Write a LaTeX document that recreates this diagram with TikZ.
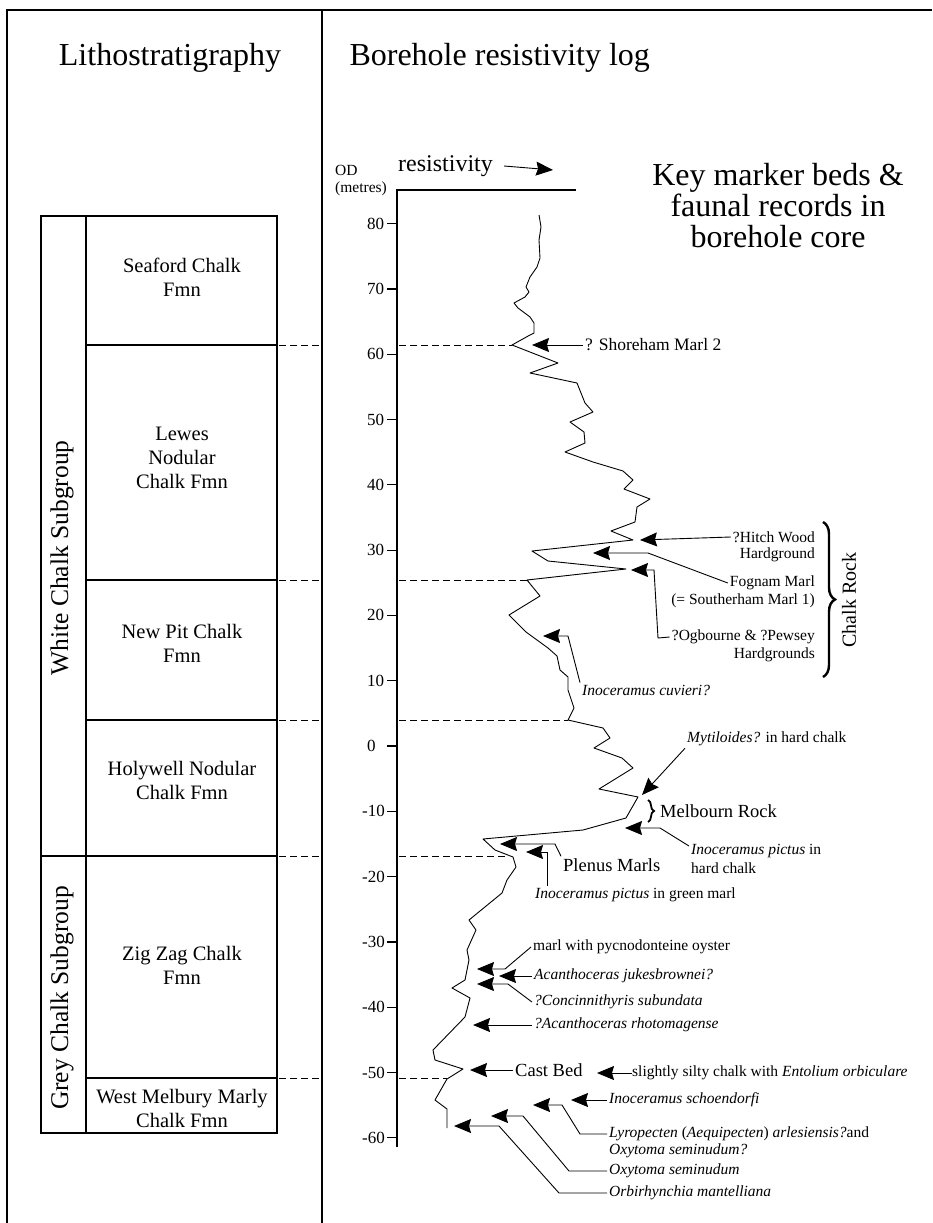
\documentclass[tikz,border=0pt]{standalone}
\usepackage{fontspec}
\setmainfont{Liberation Serif}
\usepackage{tikz}
\usetikzlibrary{arrows.meta,positioning,decorations.pathreplacing}

\begin{document}
\begin{tikzpicture}[
    x=1pt,y=-1pt,
    frame/.style={line width=1.2pt},
    unitbox/.style={draw,line width=1.2pt},
    fmn/.style={align=center,font=\fontsize{20.5}{24}\selectfont},
    group/.style={rotate=90,font=\fontsize{25.5}{28}\selectfont},
    note/.style={inner sep=2pt,font=\fontsize{15.5}{17.5}\selectfont},
    bignote/.style={inner sep=2pt,font=\fontsize{18.5}{21}\selectfont},
    odlbl/.style={inner sep=1pt,font=\fontsize{17}{19}\selectfont},
    arrow/.style={-{Stealth[length=17pt,width=14pt,inset=2pt]},line width=0.9pt},
    marker/.style={dash pattern=on 7pt off 4pt,line width=0.9pt},
    logline/.style={line width=0.9pt,line join=round},
    bracket/.style={decorate,decoration={brace,amplitude=#1},line width=2pt}
]
\useasboundingbox (0,0) rectangle (932,1223);

% frame and headings
\draw[frame] (932,10) -- (7,10) -- (7,1223);
\draw[frame] (322,10) -- (322,1223);
\node[font=\fontsize{32}{34}\selectfont] (hlith) at (170,58) {Lithostratigraphy};
\node[font=\fontsize{32}{34}\selectfont,anchor=west] (hlog) at (346,58) {Borehole resistivity log};
\node[align=center,font=\fontsize{32}{31}\selectfont] (key) at (778,206)
    {Key marker beds \&\\faunal records in\\borehole core};

% lithostratigraphic column
\draw[unitbox] (41,216) rectangle (86,1133);
\draw[unitbox] (86,216) rectangle (277,1133);
\draw[frame] (41,856) -- (86,856);
\foreach \y in {345,580,720,856,1078} {
    \draw[frame] (86,\y) -- (277,\y);
    \draw[marker] (279,\y) -- (320,\y);
}
\node[group] (white) at (62,558) {White Chalk Subgroup};
\node[group] (grey) at (62,998) {Grey Chalk Subgroup};
\node[fmn] (seaford) at (182,277) {Seaford Chalk\\Fmn};
\node[fmn] (lewes) at (182,458) {Lewes\\Nodular\\Chalk Fmn};
\node[fmn] (newpit) at (182,643) {New Pit Chalk\\Fmn};
\node[fmn] (holywell) at (182,780) {Holywell Nodular\\Chalk Fmn};
\node[fmn] (zigzag) at (182,965) {Zig Zag Chalk\\Fmn};
\node[fmn] (westmel) at (182,1108) {West Melbury Marly\\Chalk Fmn};

% log axis
\node[note,anchor=west] (od) at (333,170) {OD};
\node[note,anchor=west] (metres) at (333,189) {(metres)};
\node[anchor=west,inner sep=2pt,font=\fontsize{24}{26}\selectfont] (lres) at (396,166) {resistivity};
\coordinate (resend) at (553,170);
\draw[arrow] ([xshift=9pt]lres.east) -- (resend);
\draw[frame] (576,190) -- (397,190) -- (397,1147);
\foreach \v in {80,70,...,0} {
    \draw[frame] (387,{746-6.53*\v}) -- (397,{746-6.53*\v});
    \node[odlbl,anchor=west] (od\v) at (366,{746-6.53*\v}) {\v};
}
\foreach \v in {-10,-20,...,-60} {
    \draw[frame] (387,{746-6.53*\v}) -- (397,{746-6.53*\v});
    \node[odlbl,anchor=east] (od\v) at (386,{746-6.53*\v}) {\v};
}

% resistivity curve
\draw[logline] (539,215) -- (541,227) -- (539,240) -- (540,258) -- (537,267)
    -- (530,277) -- (526,287) -- (529,292) -- (525,297) -- (514,303) -- (518,308)
    -- (530,317) -- (534,323) -- (534,333) -- (530,335) -- (512,345) -- (558,363)
    -- (530,373) -- (577,383) -- (585,403) -- (593,412) -- (570,422) -- (584,432)
    -- (585,443) -- (565,452) -- (593,462) -- (623,471) -- (633,480) -- (624,489)
    -- (650,499) -- (637,507) -- (635,522) -- (611,531) -- (633,540) -- (532,551)
    -- (548,561) -- (626,569) -- (527,580) -- (540,596) -- (509,615) -- (526,632)
    -- (548,648) -- (557,656) -- (560,670) -- (568,677) -- (568,690) -- (574,708)
    -- (568,720) -- (603,728) -- (610,738) -- (594,748) -- (622,758) -- (633,768)
    -- (599,789) -- (638,797) -- (626,818) -- (583,830) -- (483,839) -- (495,850)
    -- (513,857) -- (516,867) -- (507,880) -- (502,893) -- (469,920) -- (476,930)
    -- (467,950) -- (469,960) -- (465,980) -- (452,988) -- (470,998) -- (465,1017)
    -- (433,1050) -- (435,1060) -- (463,1069) -- (447,1079) -- (435,1100)
    -- (447,1109) -- (447,1128);
\draw[marker] (399,345) -- (512,345);
\draw[marker] (399,580) -- (527,580);
\draw[marker] (399,720) -- (568,720);
\draw[marker] (399,856) -- (508,856);
\draw[marker] (399,1078) -- (447,1078);

% arrow targets
\coordinate (tshore) at (532,345);
\coordinate (thitch) at (640,540);
\coordinate (tfog) at (593,553);
\coordinate (togb) at (631,570);
\coordinate (tcuv) at (543,636);
\coordinate (tmyt) at (642,795);
\coordinate (tpict) at (625,828);
\coordinate (tplen) at (500,844);
\coordinate (tgreen) at (526,852);
\coordinate (toyst) at (477,969);
\coordinate (tjukes) at (499,976);
\coordinate (tconc) at (477,984);
\coordinate (trhot) at (473,1025);
\coordinate (tcast) at (470,1070);
\coordinate (tsilty) at (597,1073);
\coordinate (tschoen) at (571,1100);
\coordinate (tlyro) at (533,1105);
\coordinate (toxy) at (491,1116);
\coordinate (torb) at (454,1126);

% marker beds and faunal records
\node[note,anchor=west,font=\fontsize{17.5}{20}\selectfont] (lshore) at (583,345) {? Shoreham Marl 2};
\node[note,anchor=east] (lhitch1) at (817,537) {?Hitch Wood};
\node[note,anchor=east] (lhitch2) at (817,555) {Hardground};
\node[note,anchor=east] (lfog1) at (817,583) {Fognam Marl};
\node[note,anchor=east] (lfog2) at (817,601) {(= Southerham Marl 1)};
\node[note,anchor=east] (logb1) at (817,637) {?Ogbourne \& ?Pewsey};
\node[note,anchor=east] (logb2) at (817,655) {Hardgrounds};
\draw[bracket=12pt,line width=2.4pt] (823,522) -- (823,677);
\node[rotate=90,font=\fontsize{20}{22}\selectfont] (chalkrock) at (849,600) {Chalk Rock};
\node[note,anchor=west] (lcuv) at (580,690) {\textit{Inoceramus cuvieri?}};
\node[note,anchor=west] (lmyt) at (685,739) {\textit{Mytiloides?} in hard chalk};
\draw[bracket=6pt,line width=1.8pt] (648,800) -- (648,822);
\node[bignote,anchor=west] (lmel) at (658,811) {Melbourn Rock};
\node[note,anchor=west] (lpict1) at (689,851) {\textit{Inoceramus pictus} in};
\node[note,anchor=west] (lpict2) at (689,868) {hard chalk};
\node[bignote,anchor=west] (lplen) at (561,865) {Plenus Marls};
\node[note,anchor=west] (lgreen) at (533,895) {\textit{Inoceramus pictus} in green marl};
\node[note,anchor=west] (loyst) at (531,947) {marl with pycnodonteine oyster};
\node[note,anchor=west] (ljukes) at (532,976) {\textit{Acanthoceras jukesbrownei?}};
\node[note,anchor=west] (lconc) at (532,1002) {\textit{?Concinnithyris subundata}};
\node[note,anchor=west] (lrhot) at (532,1025) {\textit{?Acanthoceras rhotomagense}};
\node[bignote,anchor=west] (lcast) at (513,1070) {Cast Bed};
\node[note,anchor=west,inner xsep=0pt] (lsilty) at (632,1073) {slightly silty chalk with \textit{Entolium orbiculare}};
\node[note,anchor=west] (lschoen) at (607,1100) {\textit{Inoceramus schoendorfi}};
\node[note,anchor=west] (llyro1) at (607,1134) {\textit{Lyropecten} (\textit{Aequipecten}) \textit{arlesiensis?}and};
\node[note,anchor=west] (llyro2) at (607,1151) {\textit{Oxytoma seminudum?}};
\node[note,anchor=west] (loxy) at (607,1171) {\textit{Oxytoma seminudum}};
\node[note,anchor=west] (lorb) at (607,1193) {\textit{Orbirhynchia mantelliana}};

\draw[arrow] (lshore.west) -- (tshore);
\draw[arrow] (lhitch1.west) -- (thitch);
\draw[arrow] (lfog1.west) -- (648,553) -- (tfog);
\draw[arrow] (logb1.west) -- (658,638) -- (654,570) -- (togb);
\draw[arrow] (lcuv.north west) -- (568,636) -- (tcuv);
\draw[arrow] (lmyt.south west) -- (tmyt);
\draw[arrow] ([yshift=-4pt]lpict1.north west) -- (660,828) -- (tpict);
\draw[arrow] (lplen.north west) -- (555,844) -- (tplen);
\draw[arrow] ([xshift=14pt]lgreen.north west) |- (tgreen);
\draw[arrow] (loyst.west) -- (505,969) -- (toyst);
\draw[arrow] (ljukes.west) -- (tjukes);
\draw[arrow] (lconc.west) -- (508,984) -- (tconc);
\draw[arrow] (lrhot.west) -- (trhot);
\draw[arrow] (lcast.west) -- (tcast);
\draw[arrow] (lsilty.west) -- (tsilty);
\draw[arrow] (lschoen.west) -- (tschoen);
\draw[arrow] (llyro1.west) -- (580,1134) -- (562,1105) -- (tlyro);
\draw[arrow] (loxy.west) -- (569,1171) -- (523,1116) -- (toxy);
\draw[arrow] (lorb.west) -- (559,1193) -- (499,1126) -- (torb);
\end{tikzpicture}
\end{document}
